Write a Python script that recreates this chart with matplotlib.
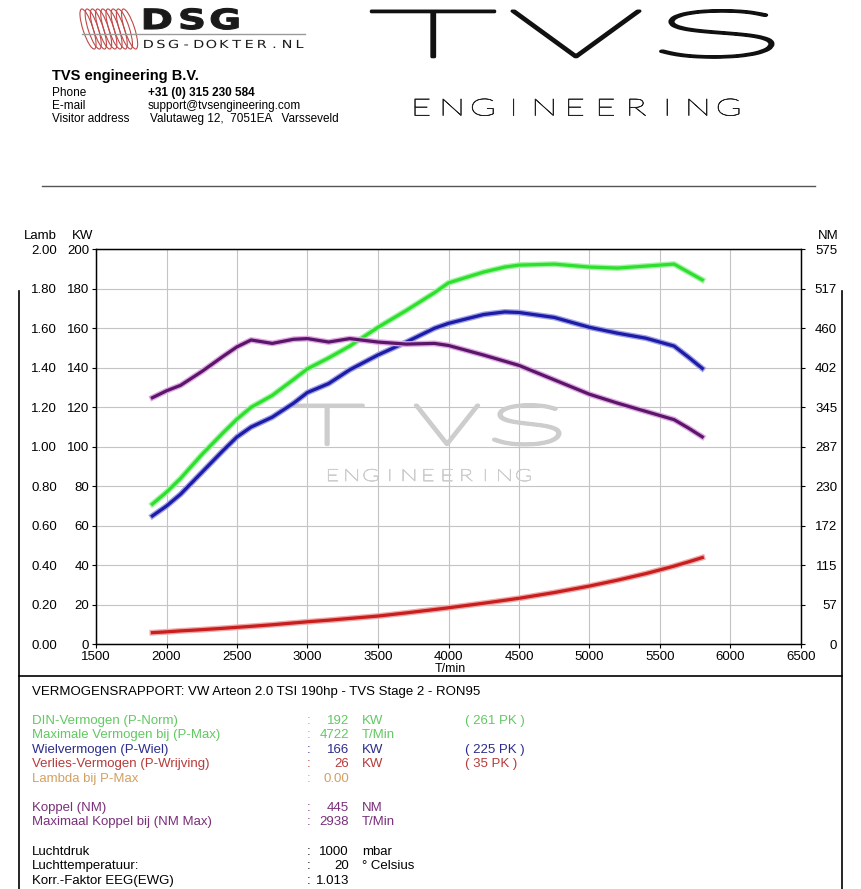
import matplotlib
matplotlib.use('Agg')
import matplotlib.pyplot as plt
import matplotlib.patheffects as pe
from matplotlib.patches import Ellipse
from matplotlib.transforms import Affine2D

# ── data ───────────────────────────────────────────────────────────────────
rpm = [1900, 2000, 2100, 2250, 2400, 2500, 2600, 2750, 2900, 3000, 3150, 3300, 3500,
       3700, 3900, 4000, 4250, 4400, 4500, 4750, 5000, 5200, 5400, 5600, 5700, 5800]
din_kw = [71, 77, 84, 96, 107, 114, 120, 126, 134, 139.5, 145, 151, 160.5,
          169, 178, 183, 188.5, 191, 192, 192.5, 191, 190.5, 191.5, 192.5, 188.5, 184.5]
wheel_kw = [65, 70, 76, 87, 98, 105, 110, 115, 122, 127.5, 132, 139, 146.5,
            153, 160, 162.5, 167, 168.3, 168, 165.5, 160.5, 157.5, 155, 151, 145.5, 139.7]
torque_nm = [359, 369, 377, 397, 419, 433, 443, 438, 444, 445, 440, 445, 440,
             437, 438, 435, 421, 412, 406, 385, 364, 351, 339, 327, 315, 302]
loss_kw = [5.9, 6.3, 6.8, 7.4, 8.1, 8.6, 9.1, 9.9, 10.8, 11.4, 12.2, 13.1, 14.3,
           15.9, 17.6, 18.5, 20.8, 22.3, 23.3, 26.2, 29.5, 32.5, 35.8, 39.6, 41.7, 43.9]

x_ticks = [1500, 2000, 2500, 3000, 3500, 4000, 4500, 5000, 5500, 6000, 6500]
kw_ticks = [0, 20, 40, 60, 80, 100, 120, 140, 160, 180, 200]
lambda_labels = ['0.00', '0.20', '0.40', '0.60', '0.80', '1.00',
                 '1.20', '1.40', '1.60', '1.80', '2.00']
nm_labels = ['0', '57', '115', '172', '230', '287', '345', '402', '460', '517', '575']

report_title = 'VERMOGENSRAPPORT: VW Arteon 2.0 TSI 190hp - TVS Stage 2 - RON95'
report_rows = [
    ('DIN-Vermogen (P-Norm)', '192', 'KW', '( 261 PK )', '#62c862'),
    ('Maximale Vermogen bij (P-Max)', '4722', 'T/Min', '', '#62c862'),
    ('Wielvermogen (P-Wiel)', '166', 'KW', '( 225 PK )', '#2c2c8c'),
    ('Verlies-Vermogen (P-Wrijving)', '26', 'KW', '( 35 PK )', '#b83a3a'),
    ('Lambda bij P-Max', '0.00', '', '', '#d4a060'),
    None,
    ('Koppel (NM)', '445', 'NM', '', '#7a2f7a'),
    ('Maximaal Koppel bij (NM Max)', '2938', 'T/Min', '', '#7a2f7a'),
    None,
    ('Luchtdruk', '1000', 'mbar', '', 'black'),
    ('Luchttemperatuur:', '20', '° Celsius', '', 'black'),
    ('Korr.-Faktor EEG(EWG)', '1.013', '', '', 'black'),
]

plt.rcParams['font.family'] = ['Liberation Sans', 'DejaVu Sans']

W, H = 862, 889
fig = plt.figure(figsize=(W / 100, H / 100), dpi=100)
fig.patch.set_facecolor('white')

# pixel-coordinate overlay for the letterhead and report box
bg = fig.add_axes([0, 0, 1, 1])
bg.set_xlim(0, W)
bg.set_ylim(H, 0)
bg.axis('off')


class Stretch(pe.AbstractPathEffect):
    """Widen glyphs horizontally about their own centre (logo lettering)."""

    def __init__(self, sx, lw=0.0):
        super().__init__()
        self.sx = sx
        self.lw = lw

    def draw_path(self, renderer, gc, tpath, affine, rgbFace=None):
        bb = tpath.get_extents(affine)
        cx = (bb.x0 + bb.x1) / 2
        aff = affine + Affine2D().translate(-cx, 0).scale(self.sx, 1).translate(cx, 0)
        gc0 = renderer.new_gc()
        gc0.copy_properties(gc)
        gc0.set_snap(False)
        if self.lw and rgbFace is not None:
            gc0.set_linewidth(self.lw)
            gc0.set_foreground(rgbFace)
        renderer.draw_path(gc0, tpath, aff, rgbFace)
        gc0.restore()


def letters(axis, s, xs, y, sx=1.0, lw=0.0, **kw):
    # one glyph per centre position in xs; sx may be one value or one per glyph
    sxs = sx if isinstance(sx, (list, tuple)) else [sx] * len(s)
    for ch, x, k in zip(s, xs, sxs):
        axis.text(x, y, ch, ha='center', va='center',
                  path_effects=[Stretch(k, lw)], **kw)


def spaced(x0, x1, n):
    step = (x1 - x0) / n
    return [x0 + step * (i + 0.5) for i in range(n)]


# ── letterhead ────────────────────────────────────────────────────────────
for i in range(9):
    bg.add_patch(Ellipse((88 + i * 5.2, 29), 10, 42, angle=-18, fill=False,
                         edgecolor='#c04848', lw=0.8))
bg.plot([82, 305], [34, 34], color='#9a9a9a', lw=1)
letters(bg, 'DSG', [157, 192, 225], 21, sx=1.4, lw=0.8, fontsize=20,
        fontweight='bold', family='DejaVu Sans', color='#1a1a1a')
letters(bg, 'DSG-DOKTER.NL', spaced(142, 306, 13), 45, sx=1.3, fontsize=8,
        family='DejaVu Sans', color='#1a1a1a')

letters(bg, 'TVS', [433, 576, 717], 39, sx=[3.5, 3.3, 4.2], lw=2.2, fontsize=47,
        family='Lato', fontweight='light', color='#111111')
letters(bg, 'ENGINEERING', spaced(406, 744, 11), 109, sx=1.5, lw=0.5, fontsize=17,
        family='Lato', fontweight='light', color='#222222')

bg.text(52, 80, 'TVS engineering B.V.', fontsize=10.5, fontweight='bold',
        va='baseline')
head_rows = [('Phone', '+31 (0) 315 230 584', 148, 'bold'),
             ('E-mail', 'support@tvsengineering.com', 148, 'normal'),
             ('Visitor address', 'Valutaweg 12,  7051EA   Varsseveld', 150, 'normal')]
for k, (lab, val, xv, wt) in enumerate(head_rows):
    yy = 96 + k * 13
    bg.text(52, yy, lab, fontsize=8.5, va='baseline')
    bg.text(xv, yy, val, fontsize=8.5, va='baseline', fontweight=wt)

bg.plot([42, 815], [186, 186], color='#555555', lw=1)

# report frame
bg.plot([19.5, 19.5], [291, H], color='black', lw=1.2)
bg.plot([842, 842], [291, H], color='black', lw=1.2)
bg.plot([19.5, 842], [676, 676], color='black', lw=1.2)

# ── dyno chart ────────────────────────────────────────────────────────────
ax = fig.add_axes([96 / W, 1 - 644.3 / H, 705 / W, 395 / H])
ax.set_xlim(1500, 6500)
ax.set_ylim(0, 200)
ax.set_xticks(x_ticks)
ax.set_yticks(kw_ticks)
ax.grid(True, color='#c4c4c4', lw=0.8)
ax.set_axisbelow(True)
ax.tick_params(labelsize=9.5, length=3, pad=2, width=0.8)
for sp in ax.spines.values():
    sp.set_linewidth(1)

# watermark
letters(ax, 'TVS', [327, 447, 527], 429, sx=[2.4, 1.9, 2.9], lw=2.6, fontsize=40,
        family='Lato', fontweight='light', color='#cdcdcd',
        transform=bg.transData, zorder=0.6)
letters(ax, 'ENGINEERING', spaced(323, 533, 11), 476, sx=1.4, lw=0.6, fontsize=12,
        family='Lato', fontweight='light', color='#cdcdcd',
        transform=bg.transData, zorder=0.6)


def glow(col):
    return [pe.Stroke(linewidth=4.2, foreground=col), pe.Normal()]


ax.plot(rpm, din_kw, color='#2ee02e', lw=2.3, path_effects=glow('#a6f2a6'), zorder=3)
ax.plot(rpm, wheel_kw, color='#1c1ca6', lw=2.3, path_effects=glow('#a0a0e6'), zorder=3)
ax.plot(rpm, loss_kw, color='#c81e1e', lw=2.3, path_effects=glow('#f0a8a8'), zorder=3)

# torque on the NM scale (right)
ax_nm = ax.twinx()
ax_nm.set_ylim(0, 575)
ax_nm.set_yticks([575 / 10 * i for i in range(11)])
ax_nm.set_yticklabels(nm_labels)
ax_nm.tick_params(labelsize=9.5, length=3, pad=23, width=0.8)
for lab in ax_nm.get_yticklabels():
    lab.set_horizontalalignment('right')
ax_nm.plot(rpm, torque_nm, color='#5a1768', lw=2.3, path_effects=glow('#e0a8e6'), zorder=3)

# lambda scale (left, outer column)
ax_l = ax.twinx()
ax_l.set_ylim(0, 2)
ax_l.yaxis.set_ticks_position('left')
ax_l.yaxis.set_label_position('left')
ax_l.set_yticks([0.2 * i for i in range(11)])
ax_l.set_yticklabels(lambda_labels)
ax_l.spines['left'].set_position(('outward', 28))
for sp in ax_l.spines.values():
    sp.set_visible(False)
ax_l.tick_params(labelsize=9.5, length=0, pad=0)

bg.text(57, 239, 'Lamb', fontsize=9.5, ha='right', va='baseline')
bg.text(83, 239, 'KW', fontsize=9.5, ha='center', va='baseline')
bg.text(828, 239, 'NM', fontsize=9.5, ha='center', va='baseline')
bg.text(450, 672, 'T/min', fontsize=9, ha='center', va='baseline')

# ── report ────────────────────────────────────────────────────────────────
bg.text(32, 695, report_title, fontsize=9.5, va='baseline')
yy = 724
for row in report_rows:
    if row is None:
        yy += 15
        continue
    lab, val, unit, pk, col = row
    bg.text(32, yy, lab, fontsize=9.5, va='baseline', color=col)
    bg.text(307, yy, ':', fontsize=9.5, va='baseline', color=col)
    bg.text(349, yy, val, fontsize=9.5, va='baseline', ha='right', color=col)
    if unit:
        bg.text(362, yy, unit, fontsize=9.5, va='baseline', color=col)
    if pk:
        bg.text(465, yy, pk, fontsize=9.5, va='baseline', color=col)
    yy += 14.4

fig.savefig('out.png', dpi=100, facecolor='white')
